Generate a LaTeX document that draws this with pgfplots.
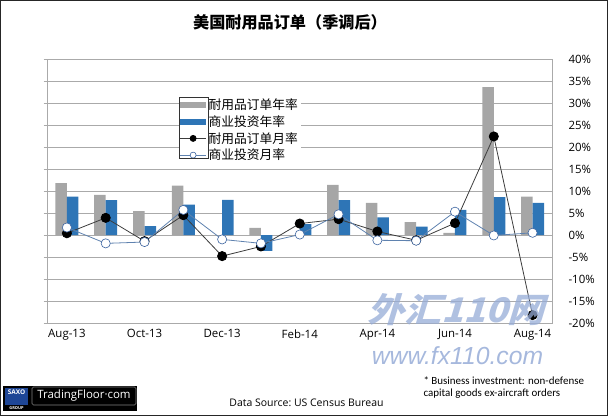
\documentclass[border=0pt]{standalone}
\usepackage{pgfplots}
\pgfplotsset{compat=1.18}
\usepackage{fontspec}
\setmainfont{Open Sans}
\newfontfamily\cjk{Noto Sans CJK SC}
\newfontfamily\carlito{Carlito}
\newfontfamily\arial{Liberation Sans}
\definecolor{barGray}{RGB}{166,166,166}
\definecolor{barBlue}{RGB}{46,117,182}
\definecolor{lineDark}{RGB}{60,60,60}
\definecolor{lineBlue}{RGB}{95,130,175}
\definecolor{markBlue}{RGB}{60,100,160}
\definecolor{gridGray}{RGB}{170,170,170}
\definecolor{wmBlue}{RGB}{150,172,215}
\definecolor{saxoBlue}{RGB}{30,70,150}

\pgfplotstableread{
x dg bi dm bm
0 11.8 8.7 0.4 1.7
1 9.1 7.9 3.9 -1.9
2 5.4 2.0 -1.4 -1.6
3 11.2 6.9 4.5 5.7
4 0 8.0 -4.8 -1.0
5 1.6 -3.6 -2.6 -1.9
6 0 2.5 2.6 0.1
7 11.4 7.9 3.6 4.7
8 7.3 4.0 0.8 -1.2
9 2.9 1.9 -1.2 -1.3
10 0.5 5.7 2.7 5.3
11 33.6 8.6 22.4 -0.1
12 8.7 7.3 -18.2 0.5
}\data

\begin{document}
\begin{tikzpicture}
\path[use as bounding box] (0,0) rectangle (608bp,416bp);
\begin{axis}[
  at={(47.5bp,93bp)}, anchor=south west,
  scale only axis, width=504.5bp, height=264bp,
  xmin=-0.5, xmax=12.5, ymin=-20, ymax=40,
  axis line style={gridGray, line width=0.8bp},
  ytick={-20,-15,...,40},
  yticklabels={-20\%,-15\%,-10\%,-5\%,0\%,5\%,10\%,15\%,20\%,25\%,30\%,35\%,40\%},
  ytick pos=left, yticklabel pos=right,
  ytick align=outside, major tick length=4bp,
  ytick style={gridGray, line width=0.8bp},
  ymajorgrids, grid style={gridGray, line width=0.9bp},
  xtick={0,2,...,12},
  xticklabels={Aug-13,Oct-13,Dec-13,Feb-14,Apr-14,Jun-14,Aug-14},
  xtick style={draw=none},
  tick label style={font=\fontsize{11.5}{13}\selectfont, text=black},
  yticklabel style={anchor=west, xshift=9bp},
  xticklabel style={yshift=-3bp},
  legend style={at={(0.2607,0.860)}, anchor=north west, draw=none, fill=white,
    inner sep=0.5bp, row sep=0bp,
    nodes={inner sep=2.2bp, font=\cjk\fontsize{12.8}{13}\selectfont}},
  legend cell align=left,
]
\addplot[ybar, bar width=11.5bp, bar shift=-5.75bp, fill=barGray, draw=none,
  legend image code/.code={\fill[barGray] (0bp,-3bp) rectangle (26bp,3bp);}]
  table[x=x,y=dg]{\data};
\addlegendentry{耐用品订单年率}
\addplot[ybar, bar width=11.5bp, bar shift=5.75bp, fill=barBlue, draw=none,
  legend image code/.code={\fill[barBlue] (0bp,-3bp) rectangle (26bp,3bp);}]
  table[x=x,y=bi]{\data};
\addlegendentry{商业投资年率}
\addplot[lineDark, line width=0.8bp, mark=*, mark size=4.6bp,
  mark options={fill=black, draw=black},
  legend image code/.code={\draw[lineDark, line width=0.8bp] (0bp,0bp) -- (26bp,0bp);
    \fill[black] (13bp,0bp) circle (3bp);}]
  table[x=x,y=dm]{\data};
\addlegendentry{耐用品订单月率}
\addplot[lineBlue, line width=0.8bp, mark=*, mark size=4.6bp,
  mark options={fill=white, draw=markBlue, line width=0.6bp},
  legend image code/.code={\draw[lineBlue, line width=0.8bp] (0bp,0bp) -- (26bp,0bp);
    \filldraw[fill=white, draw=markBlue, line width=0.6bp] (13bp,0bp) circle (3bp);}]
  table[x=x,y=bm]{\data};
\addlegendentry{商业投资月率}
\end{axis}
\begin{scope}[x=1bp,y=1bp]
% legend frame
\draw[black!80, line width=0.8bp] (179,319) rectangle (208,258);
% title
\node at (290,394) {\cjk\bfseries\fontsize{16.2}{18}\selectfont 美国耐用品订单（季调后）};
% watermark
\node[text=wmBlue, opacity=0.75, xslant=0.3, xscale=1.08, inner sep=0pt] at (460,106)
  {\cjk\bfseries\fontsize{34}{35}\selectfont 外汇110网};
\node[text=wmBlue, opacity=0.85, inner sep=0pt] at (457.5,60)
  {\arial\itshape\fontsize{24.8}{26}\selectfont www.fx110.com};
% data source
\node at (306.5,13) {\fontsize{10.5}{12}\selectfont Data Source:\ US Census Bureau};
% footnote
\node[anchor=west] at (420,35.3) {\carlito\fontsize{11}{12}\selectfont * Business investment: non-defense};
\node[anchor=west] at (420,22) {\carlito\fontsize{11}{12}\selectfont capital goods ex-aircraft orders};
% logo
\fill[black] (3,5) rectangle (137,30);
\fill[saxoBlue] (5,11) rectangle (28,28);
\node[text=white, font=\bfseries\fontsize{6.5}{7}\selectfont, inner sep=0] at (16.5,23.5) {SAXO};
\node[text=white, font=\bfseries\fontsize{4}{5}\selectfont, inner sep=0] at (16.5,7.5) {GROUP};
\draw[gray, fill=black, rounded corners=1.5bp, line width=0.6bp] (32,11) rectangle (136,29);
\node[text=white, font=\fontsize{11.5}{13}\selectfont] at (84,20) {TradingFloor·com};
% outer frame
\draw[black!85, line width=1.5bp] (0.75,0.75) rectangle (607.25,415.25);
\end{scope}
\end{tikzpicture}
\end{document}
